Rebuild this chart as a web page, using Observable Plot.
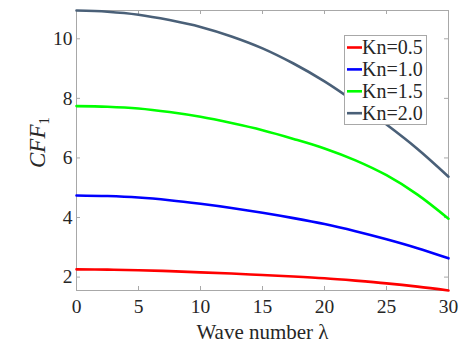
<!DOCTYPE html>
<html>
<head>
<meta charset="utf-8">
<script src="https://cdn.jsdelivr.net/npm/d3@7"></script>
<script src="https://cdn.jsdelivr.net/npm/@observablehq/plot@0.6"></script>
<style>
  html, body { margin: 0; padding: 0; background: #fff; }
  #chart { width: 464px; height: 342px; }
</style>
</head>
<body>
<div id="chart"></div>
<script>
// Wave number λ
const lambda = [0, 2.5, 5, 7.5, 10, 12.5, 15, 17.5, 20, 22.5, 25, 27.5, 30];
// CFF_1 series
const kn05 = [2.26, 2.25, 2.23, 2.20, 2.16, 2.12, 2.07, 2.02, 1.96, 1.88, 1.79, 1.68, 1.55];
const kn10 = [4.74, 4.72, 4.67, 4.58, 4.46, 4.32, 4.16, 3.98, 3.78, 3.54, 3.27, 2.97, 2.63];
const kn15 = [7.74, 7.72, 7.66, 7.54, 7.38, 7.17, 6.93, 6.64, 6.32, 5.92, 5.42, 4.77, 3.96];
const kn20 = [10.95, 10.91, 10.81, 10.63, 10.40, 10.08, 9.68, 9.17, 8.57, 7.87, 7.12, 6.30, 5.37];

const seriesNames = ["Kn=0.5", "Kn=1.0", "Kn=1.5", "Kn=2.0"];
const seriesValues = [kn05, kn10, kn15, kn20];
const seriesColors = ["#ff0000", "#0000ff", "#00ff00", "#4a6078"];

const xTicks = [0, 5, 10, 15, 20, 25, 30];
const yTicks = [2, 4, 6, 8, 10];
const xDomain = [0, 30];
const yDomain = [1.55, 10.95];

const rows = [];
seriesNames.forEach((name, i) => {
  lambda.forEach((x, j) => rows.push({series: name, x, y: seriesValues[i][j]}));
});

const W = 464, H = 342;
const mL = 76, mR = 16, mT = 10, mB = 52;
const innerW = W - mL - mR, innerH = H - mT - mB;
const gray = "#a8a8a8";
const textColor = "#262626";
const font = "'Liberation Serif', 'Times New Roman', serif";

const chart = Plot.plot({
  width: W,
  height: H,
  marginLeft: mL,
  marginRight: mR,
  marginTop: mT,
  marginBottom: mB,
  style: {fontFamily: font, fontSize: "19px", color: textColor, background: "#fff"},
  x: {domain: xDomain, axis: null},
  y: {domain: yDomain, axis: null},
  color: {domain: seriesNames, range: seriesColors},
  marks: [
    Plot.frame({stroke: gray, strokeWidth: 1}),
    // inward ticks: bottom, top, left, right
    Plot.tickX(xTicks, {x: d => d, stroke: gray, insetTop: innerH - 4}),
    Plot.tickX(xTicks, {x: d => d, stroke: gray, insetBottom: innerH - 4}),
    Plot.tickY(yTicks, {y: d => d, stroke: gray, insetRight: innerW - 4}),
    Plot.tickY(yTicks, {y: d => d, stroke: gray, insetLeft: innerW - 4}),
    Plot.axisX(xTicks, {anchor: "bottom", tickSize: 0, tickPadding: 9, label: null, fontSize: 19.5, fill: textColor}),
    Plot.axisY(yTicks, {anchor: "left", tickSize: 0, tickPadding: 4, label: null, fontSize: 19.5, fill: textColor}),
    Plot.line(rows, {x: "x", y: "y", stroke: "series", z: "series", strokeWidth: 2.6, curve: "catmull-rom"}),
    Plot.text(["Wave number λ"], {frameAnchor: "bottom", lineAnchor: "bottom", dy: 48, fontSize: 21, fill: textColor})
  ]
});

document.getElementById("chart").appendChild(chart);

const svg = d3.select(chart);

// Y-axis label with italic CFF and subscript 1
const yl = svg.append("text")
  .attr("transform", "translate(45,142.5) rotate(-90)")
  .attr("text-anchor", "middle")
  .attr("fill", textColor)
  .style("font-family", font)
  .style("font-size", "23px");
yl.append("tspan").style("font-style", "italic").text("CFF");
yl.append("tspan").attr("dy", 4).style("font-size", "15px").text("1");

// Legend
const lg = svg.append("g")
  .attr("text-anchor", "start")
  .style("font-family", font)
  .style("font-size", "20px");
lg.append("rect")
  .attr("x", 344.5).attr("y", 35.5).attr("width", 82).attr("height", 89)
  .attr("fill", "#fff").attr("stroke", gray);
seriesNames.forEach((name, i) => {
  const cy = 47.5 + i * 21.9;
  lg.append("line")
    .attr("x1", 347).attr("x2", 362).attr("y1", cy).attr("y2", cy)
    .attr("stroke", seriesColors[i]).attr("stroke-width", 2.6);
  lg.append("text")
    .attr("x", 362).attr("y", cy).attr("dy", "0.33em")
    .attr("text-anchor", "start")
    .attr("fill", textColor).text(name);
});
</script>
</body>
</html>
